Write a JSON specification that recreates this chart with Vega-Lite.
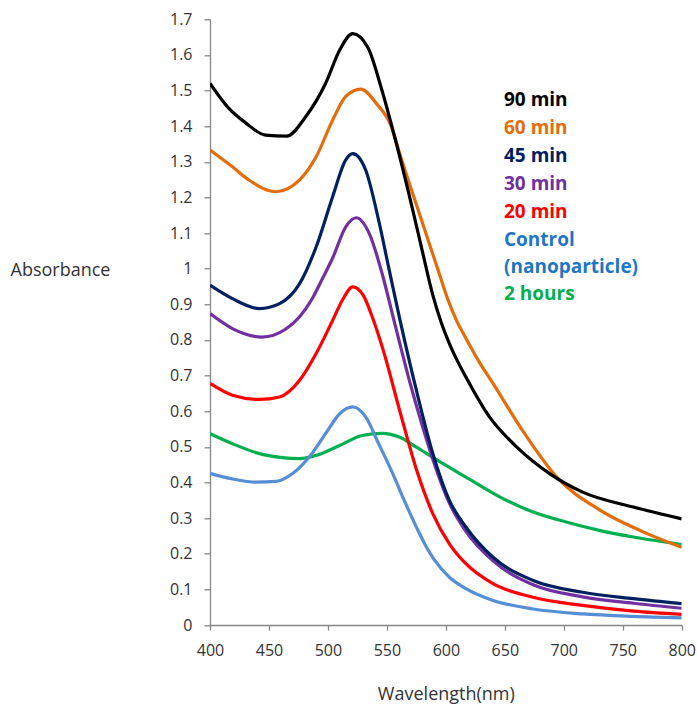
{
  "$schema": "https://vega.github.io/schema/vega-lite/v6.json",
  "autosize": "none",
  "width": 471.7,
  "height": 605.7,
  "padding": {"left": 210, "top": 19.3, "right": 15.3, "bottom": 79},
  "background": "white",
  "config": {"view": {"stroke": null}},
  "data": {"values": [
    {"s":"2 hours","w":400,"a":0.537},{"s":"2 hours","w":419,"a":0.509},{"s":"2 hours","w":442,"a":0.481},{"s":"2 hours","w":461,"a":0.47},{"s":"2 hours","w":476,"a":0.467},{"s":"2 hours","w":490,"a":0.476},{"s":"2 hours","w":510,"a":0.504},{"s":"2 hours","w":529,"a":0.532},{"s":"2 hours","w":546,"a":0.538},{"s":"2 hours","w":561,"a":0.527},{"s":"2 hours","w":575,"a":0.499},{"s":"2 hours","w":592,"a":0.464},{"s":"2 hours","w":617,"a":0.415},{"s":"2 hours","w":646,"a":0.359},{"s":"2 hours","w":674,"a":0.317},{"s":"2 hours","w":702,"a":0.289},{"s":"2 hours","w":731,"a":0.265},{"s":"2 hours","w":759,"a":0.247},{"s":"2 hours","w":800,"a":0.226},
    {"s":"Control (nanoparticle)","w":400,"a":0.426},{"s":"Control (nanoparticle)","w":419,"a":0.41},{"s":"Control (nanoparticle)","w":439,"a":0.401},{"s":"Control (nanoparticle)","w":456,"a":0.403},{"s":"Control (nanoparticle)","w":470,"a":0.425},{"s":"Control (nanoparticle)","w":484,"a":0.471},{"s":"Control (nanoparticle)","w":498,"a":0.537},{"s":"Control (nanoparticle)","w":510,"a":0.593},{"s":"Control (nanoparticle)","w":521,"a":0.612},{"s":"Control (nanoparticle)","w":532,"a":0.584},{"s":"Control (nanoparticle)","w":543,"a":0.509},{"s":"Control (nanoparticle)","w":555,"a":0.425},{"s":"Control (nanoparticle)","w":562,"a":0.37},{"s":"Control (nanoparticle)","w":569,"a":0.318},{"s":"Control (nanoparticle)","w":576,"a":0.268},{"s":"Control (nanoparticle)","w":583,"a":0.222},{"s":"Control (nanoparticle)","w":590,"a":0.184},{"s":"Control (nanoparticle)","w":603,"a":0.134},{"s":"Control (nanoparticle)","w":617,"a":0.102},{"s":"Control (nanoparticle)","w":640,"a":0.069},{"s":"Control (nanoparticle)","w":674,"a":0.045},{"s":"Control (nanoparticle)","w":716,"a":0.031},{"s":"Control (nanoparticle)","w":759,"a":0.024},{"s":"Control (nanoparticle)","w":800,"a":0.02},
    {"s":"20 min","w":400,"a":0.678},{"s":"20 min","w":419,"a":0.645},{"s":"20 min","w":442,"a":0.633},{"s":"20 min","w":459,"a":0.64},{"s":"20 min","w":476,"a":0.687},{"s":"20 min","w":490,"a":0.762},{"s":"20 min","w":504,"a":0.855},{"s":"20 min","w":512,"a":0.91},{"s":"20 min","w":521,"a":0.949},{"s":"20 min","w":530,"a":0.925},{"s":"20 min","w":537,"a":0.87},{"s":"20 min","w":547,"a":0.77},{"s":"20 min","w":561,"a":0.6},{"s":"20 min","w":575,"a":0.437},{"s":"20 min","w":589,"a":0.312},{"s":"20 min","w":603,"a":0.228},{"s":"20 min","w":617,"a":0.172},{"s":"20 min","w":640,"a":0.116},{"s":"20 min","w":674,"a":0.078},{"s":"20 min","w":716,"a":0.055},{"s":"20 min","w":759,"a":0.039},{"s":"20 min","w":800,"a":0.03},
    {"s":"30 min","w":400,"a":0.874},{"s":"30 min","w":419,"a":0.832},{"s":"30 min","w":444,"a":0.808},{"s":"30 min","w":464,"a":0.83},{"s":"30 min","w":476,"a":0.865},{"s":"30 min","w":486,"a":0.912},{"s":"30 min","w":495,"a":0.97},{"s":"30 min","w":504,"a":1.03},{"s":"30 min","w":515,"a":1.117},{"s":"30 min","w":524,"a":1.143},{"s":"30 min","w":535,"a":1.099},{"s":"30 min","w":546,"a":0.986},{"s":"30 min","w":556,"a":0.855},{"s":"30 min","w":570,"a":0.675},{"s":"30 min","w":580,"a":0.56},{"s":"30 min","w":590,"a":0.455},{"s":"30 min","w":603,"a":0.342},{"s":"30 min","w":617,"a":0.263},{"s":"30 min","w":640,"a":0.18},{"s":"30 min","w":674,"a":0.113},{"s":"30 min","w":716,"a":0.079},{"s":"30 min","w":759,"a":0.061},{"s":"30 min","w":800,"a":0.047},
    {"s":"45 min","w":400,"a":0.954},{"s":"45 min","w":419,"a":0.916},{"s":"45 min","w":442,"a":0.888},{"s":"45 min","w":459,"a":0.902},{"s":"45 min","w":476,"a":0.958},{"s":"45 min","w":490,"a":1.061},{"s":"45 min","w":504,"a":1.202},{"s":"45 min","w":515,"a":1.305},{"s":"45 min","w":521,"a":1.323},{"s":"45 min","w":532,"a":1.277},{"s":"45 min","w":543,"a":1.136},{"s":"45 min","w":552,"a":0.996},{"s":"45 min","w":561,"a":0.858},{"s":"45 min","w":575,"a":0.659},{"s":"45 min","w":589,"a":0.481},{"s":"45 min","w":603,"a":0.35},{"s":"45 min","w":617,"a":0.275},{"s":"45 min","w":640,"a":0.19},{"s":"45 min","w":674,"a":0.125},{"s":"45 min","w":716,"a":0.092},{"s":"45 min","w":759,"a":0.074},{"s":"45 min","w":800,"a":0.06},
    {"s":"60 min","w":400,"a":1.333},{"s":"60 min","w":419,"a":1.286},{"s":"60 min","w":433,"a":1.249},{"s":"60 min","w":456,"a":1.216},{"s":"60 min","w":476,"a":1.249},{"s":"60 min","w":490,"a":1.314},{"s":"60 min","w":504,"a":1.417},{"s":"60 min","w":515,"a":1.483},{"s":"60 min","w":528,"a":1.504},{"s":"60 min","w":541,"a":1.464},{"s":"60 min","w":553,"a":1.405},{"s":"60 min","w":561,"a":1.322},{"s":"60 min","w":566,"a":1.27},{"s":"60 min","w":575,"a":1.18},{"s":"60 min","w":583,"a":1.1},{"s":"60 min","w":589,"a":1.04},{"s":"60 min","w":595,"a":0.98},{"s":"60 min","w":602,"a":0.911},{"s":"60 min","w":609,"a":0.855},{"s":"60 min","w":617,"a":0.805},{"s":"60 min","w":628,"a":0.74},{"s":"60 min","w":640,"a":0.678},{"s":"60 min","w":665,"a":0.546},{"s":"60 min","w":694,"a":0.415},{"s":"60 min","w":731,"a":0.322},{"s":"60 min","w":765,"a":0.265},{"s":"60 min","w":800,"a":0.218},
    {"s":"90 min","w":400,"a":1.52},{"s":"90 min","w":416,"a":1.45},{"s":"90 min","w":430,"a":1.41},{"s":"90 min","w":447,"a":1.375},{"s":"90 min","w":465,"a":1.372},{"s":"90 min","w":481,"a":1.426},{"s":"90 min","w":498,"a":1.52},{"s":"90 min","w":510,"a":1.614},{"s":"90 min","w":521,"a":1.66},{"s":"90 min","w":534,"a":1.62},{"s":"90 min","w":545,"a":1.51},{"s":"90 min","w":555,"a":1.39},{"s":"90 min","w":572,"a":1.164},{"s":"90 min","w":580,"a":1.05},{"s":"90 min","w":589,"a":0.925},{"s":"90 min","w":596,"a":0.85},{"s":"90 min","w":603,"a":0.79},{"s":"90 min","w":610,"a":0.74},{"s":"90 min","w":617,"a":0.696},{"s":"90 min","w":637,"a":0.584},{"s":"90 min","w":660,"a":0.5},{"s":"90 min","w":688,"a":0.425},{"s":"90 min","w":716,"a":0.373},{"s":"90 min","w":759,"a":0.331},{"s":"90 min","w":800,"a":0.298}
  ]},
  "mark": {"type": "line", "strokeWidth": 3.2, "interpolate": "monotone", "clip": true},
  "encoding": {
    "x": {"field": "w", "type": "quantitative",
      "scale": {"domain": [400, 800], "nice": false, "zero": false},
      "axis": {"values": [400,450,500,550,600,650,700,750,800], "grid": false, "labelFlush": false,
        "title": "Wavelength(nm)", "titleFont": "Open Sans", "titleFontSize": 18, "titleFontWeight": "normal", "titleColor": "#333333",
        "titleY": 74, "titleBaseline": "alphabetic",
        "labelFont": "Open Sans", "labelFontSize": 16, "labelColor": "#333333", "labelPadding": 12,
        "domainColor": "#878787", "tickColor": "#878787", "tickSize": 5, "domainWidth": 1.3, "tickWidth": 1.3}},
    "y": {"field": "a", "type": "quantitative",
      "scale": {"domain": [0, 1.7], "nice": false},
      "axis": {"values": [0,0.1,0.2,0.3,0.4,0.5,0.6,0.7,0.8,0.9,1,1.1,1.2,1.3,1.4,1.5,1.6,1.7], "format": ".1~f", "grid": false, "labelFlush": false,
        "title": "Absorbance", "titleFont": "Open Sans", "titleFontSize": 18, "titleFontWeight": "normal", "titleColor": "#333333",
        "titleAngle": 0, "titleAlign": "left", "titleBaseline": "middle", "titleX": -200, "titleY": 250.7,
        "labelFont": "Open Sans", "labelFontSize": 16, "labelColor": "#333333", "labelPadding": 12,
        "domainColor": "#878787", "tickColor": "#878787", "tickSize": 6, "domainWidth": 1.3, "tickWidth": 1.3}},
    "color": {"field": "s", "type": "nominal",
      "scale": {"domain": ["90 min","60 min","45 min","30 min","20 min","Control (nanoparticle)","2 hours"],
        "range": ["#000000","#E46C0A","#002060","#7030A0","#FF0000","#558ED5","#00B050"]},
      "legend": {"orient": "none", "legendX": 275, "legendY": 71, "title": null, "padding": 0,
        "symbolOpacity": 0, "symbolSize": 0, "symbolStrokeWidth": 0, "labelOffset": 0,
        "labelFont": "Open Sans", "labelFontSize": 19, "labelFontWeight": "bold", "labelLimit": 0,
        "rowPadding": 8.1,
        "labelExpr": "datum.label == 'Control (nanoparticle)' ? ['Control', '(nanoparticle)'] : datum.label",
        "encode": {"labels": {"update": {
          "fill": [{"test": "datum.value == 'Control (nanoparticle)'", "value": "#1F76C6"}, {"scale": "color", "field": "value"}],
          "lineHeight": {"value": 26.5}}}}}}
  }
}
